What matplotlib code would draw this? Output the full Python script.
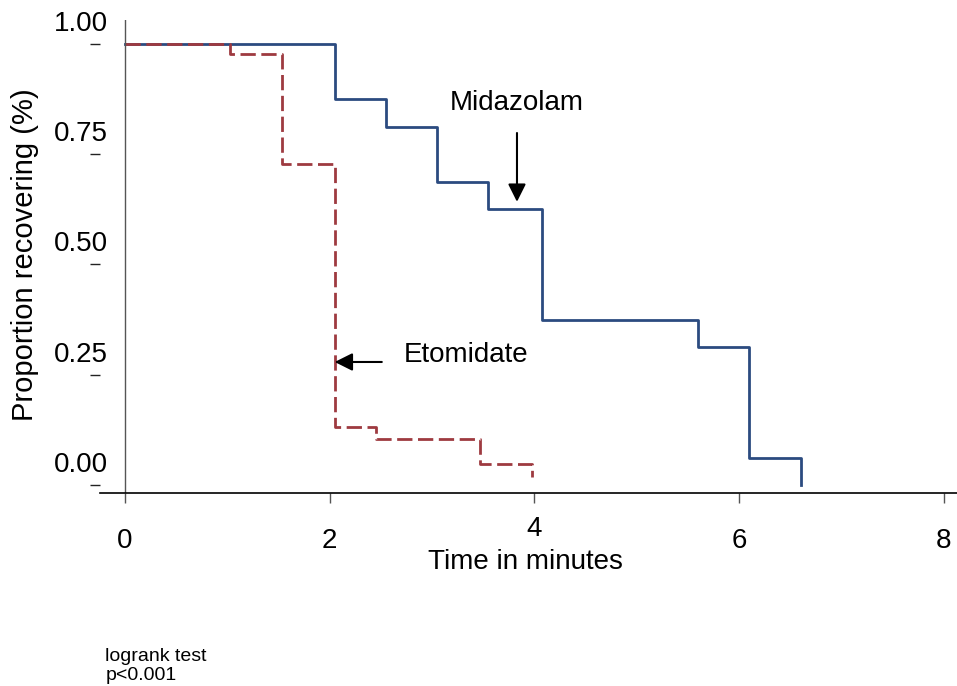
import matplotlib
matplotlib.use("Agg")
import matplotlib.pyplot as plt
from matplotlib.transforms import ScaledTranslation

plt.rcParams['font.family'] = ['Liberation Sans', 'DejaVu Sans']

# Kaplan-Meier style step data (time in minutes, proportion still not recovered)
mid_times = [0, 2.05, 2.55, 3.05, 3.55, 4.07, 5.6, 6.1, 6.6]
mid_surv = [1.0, 0.875, 0.8125, 0.6875, 0.625, 0.375, 0.3125, 0.0625, 0.0]

eto_times = [0, 1.03, 1.54, 2.05, 2.45, 3.47, 3.98]
eto_surv = [1.0, 0.978, 0.728, 0.132, 0.104, 0.048, 0.018]

x_ticks = [0, 2, 4, 6, 8]
y_ticks = [0.0, 0.25, 0.5, 0.75, 1.0]
y_ticklabels = ["0.00", "0.25", "0.50", "0.75", "1.00"]

blue = "#2b4b80"
red = "#9e3a40"

fig = plt.figure(figsize=(9.57, 6.86), dpi=100)
ax = fig.add_axes([0.1045, 0.2813, 0.8955, 0.6895])

ax.step(mid_times, mid_surv, where="post", color=blue, lw=2)
ax.step(eto_times, eto_surv, where="post", color=red, lw=2,
        linestyle=(0, (5.5, 2)))

ax.set_xlim(-0.242, 8.127)
ax.set_ylim(-0.018, 1.054)

# axes styling
ax.spines["top"].set_visible(False)
ax.spines["right"].set_visible(False)
ax.spines["left"].set_color("none")
ax.spines["bottom"].set_color("black")
ax.spines["bottom"].set_linewidth(1.2)
ax.axvline(0, color="#555555", lw=1)

ax.set_xticks(x_ticks)
ax.tick_params(axis="x", direction="out", length=7, width=1, color="#555555",
               labelsize=20, pad=18)
# the "4" label sits a little higher in the original
xlabs = ax.get_xticklabels()
xlabs[2].set_transform(xlabs[2].get_transform() + ScaledTranslation(0, 0.12, fig.dpi_scale_trans))

ax.set_yticks(y_ticks)
ax.set_yticklabels(y_ticklabels)
ax.tick_params(axis="y", direction="out", length=7, width=1, color="#222222",
               labelsize=20, pad=-13)
for lab in ax.get_yticklabels():
    lab.set_transform(lab.get_transform() + ScaledTranslation(0, 0.23, fig.dpi_scale_trans))

ax.set_xlabel("Time in minutes", fontsize=20, va="top")
ax.xaxis.set_label_coords(0.496, -0.118)
ax.set_ylabel("Proportion recovering (%)", fontsize=21)
ax.yaxis.set_label_coords(-0.071, 0.503)

# annotations
arrow = dict(arrowstyle="-|>", mutation_scale=27, lw=1.5, color="black",
             shrinkA=0, shrinkB=0)
ax.annotate("", xy=(3.83, 0.642), xytext=(3.83, 0.798), arrowprops=arrow)
ax.text(3.83, 0.866, "Midazolam", fontsize=20, ha="center", va="center")
ax.annotate("", xy=(2.05, 0.279), xytext=(2.51, 0.279), arrowprops=arrow)
ax.text(2.72, 0.295, "Etomidate", fontsize=20, ha="left", va="center")

fig.text(0.11, 0.055, "logrank test\np<0.001", fontsize=14, ha="left", va="top",
         linespacing=1.15)

fig.savefig("out.png", dpi=100)
